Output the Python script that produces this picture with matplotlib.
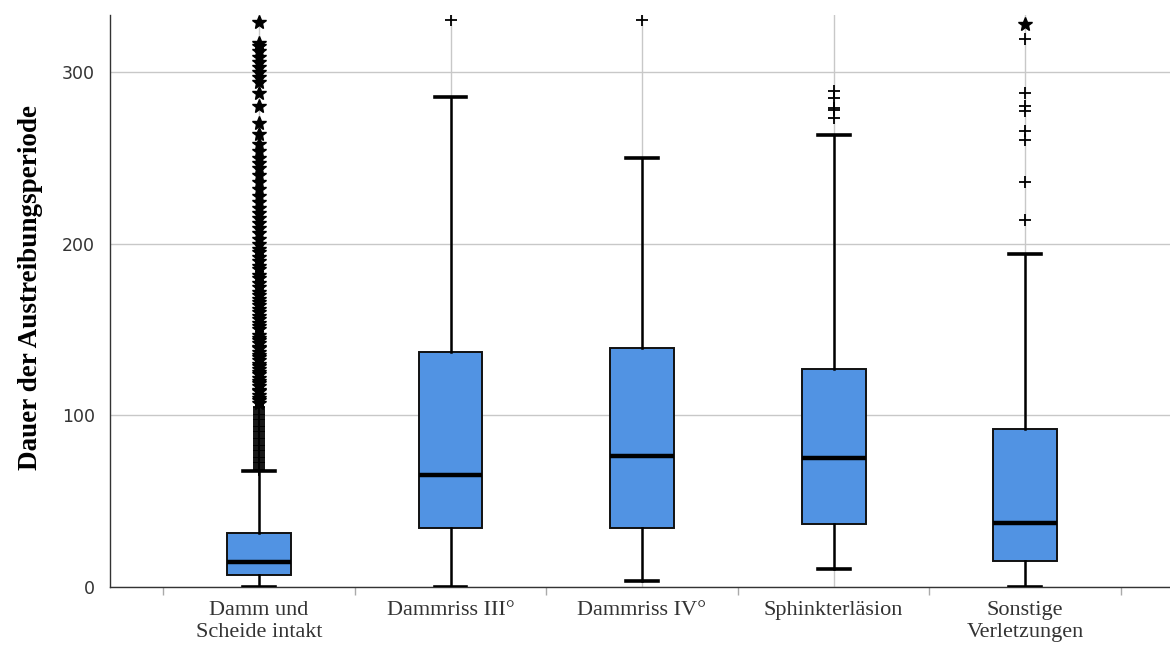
import matplotlib
matplotlib.use("Agg")
import matplotlib.pyplot as plt

# ── data ─────────────────────────────────────────────────────────────────────
labels = ["Damm und\nScheide intakt", "Dammriss III°", "Dammriss IV°",
          "Sphinkterläsion", "Sonstige\nVerletzungen"]
q1 = [7.0, 34.5, 34.5, 36.5, 15.2]
med = [14.5, 65.5, 76.5, 75.2, 37.2]
q3 = [31.5, 137.0, 139.5, 127.0, 92.0]
whislo = [0.0, 0.0, 3.5, 10.5, 0.0]
whishi = [67.5, 285.5, 250.0, 263.5, 194.0]

# outliers (+) and extreme values (*)
outliers = [
    [68, 69, 70, 71, 72, 73, 74, 75, 76, 77, 78, 79, 80, 81, 82, 83, 84, 85,
     86, 87, 88, 89, 90, 91, 92, 93, 94, 95, 96, 97, 98, 99, 100, 101, 102,
     103, 104, 105],
    [330],
    [330.5],
    [289, 285, 279, 278, 273],
    [319.5, 288, 280, 277.5, 265.5, 260.5, 236, 214],
]
extremes = [
    [107, 109, 110, 112, 114, 115, 117, 119, 120, 122, 124, 125, 127, 129,
     130, 132, 134, 135, 137, 139, 140, 142, 144, 145, 147, 150, 152, 154,
     156, 158, 160, 162, 164, 166, 168, 170, 172, 175, 177, 180, 182, 185,
     187, 190, 192, 195, 197, 200, 203, 206, 209, 212, 215, 218, 221, 224,
     228, 232, 236, 240, 244, 247, 250, 254, 258, 264, 270, 280, 288, 294,
     297, 300, 303, 306, 309, 312, 315, 317, 329],
    [],
    [],
    [],
    [328],
]

BOX_COLOR = "#5193e3"
GRID = "#c8c8c8"

fig = plt.figure(figsize=(11.7, 6.46), dpi=100)
ax = fig.add_axes([110 / 1170, 1 - 587 / 646, 1 - 110 / 1170, (587 - 15) / 646])

pos = list(range(len(labels)))
stats = []
for i in pos:
    stats.append(dict(med=med[i], q1=q1[i], q3=q3[i], whislo=whislo[i],
                      whishi=whishi[i], fliers=outliers[i], label=labels[i]))

ax.bxp(stats, positions=pos, widths=0.334, capwidths=0.167, patch_artist=True,
       boxprops=dict(facecolor=BOX_COLOR, edgecolor="#111111", linewidth=1.4),
       medianprops=dict(color="black", linewidth=3.2),
       whiskerprops=dict(color="black", linewidth=1.8),
       capprops=dict(color="black", linewidth=2.6),
       flierprops=dict(marker="+", markersize=9, markeredgewidth=1.3,
                       markeredgecolor="black", linestyle="none"),
       zorder=3)

for i in pos:
    if extremes[i]:
        ax.plot([i] * len(extremes[i]), extremes[i], linestyle="none",
                marker="*", markersize=10, color="black", zorder=4)

ax.set_xlim(-0.778, 4.757)
ax.set_ylim(0, 333.2)

ax.set_yticks([0, 100, 200, 300])
ax.set_xticks(pos)
ax.set_xticklabels(labels, family="Liberation Serif", fontsize=16,
                   color="#333333", linespacing=1.2)
ax.set_xticks([p + 0.5 for p in [-1] + pos], minor=True)
ax.tick_params(axis="x", which="major", length=0, pad=10)
ax.tick_params(axis="x", which="minor", length=6, color="#aaaaaa", width=1)
ax.tick_params(axis="y", length=0, pad=11, labelsize=12.5, labelcolor="#333333")

ax.set_axisbelow(True)
ax.grid(True, color=GRID, linewidth=1)

for s in ["top", "right"]:
    ax.spines[s].set_visible(False)
for s in ["left", "bottom"]:
    ax.spines[s].set_color("#333333")
    ax.spines[s].set_linewidth(1)

ax.set_ylabel("Dauer der Austreibungsperiode", family="Liberation Serif",
              fontweight="bold", fontsize=19.5, color="black")
ax.yaxis.set_label_coords(-0.063, 0.523)

fig.savefig("out.png", dpi=100)
